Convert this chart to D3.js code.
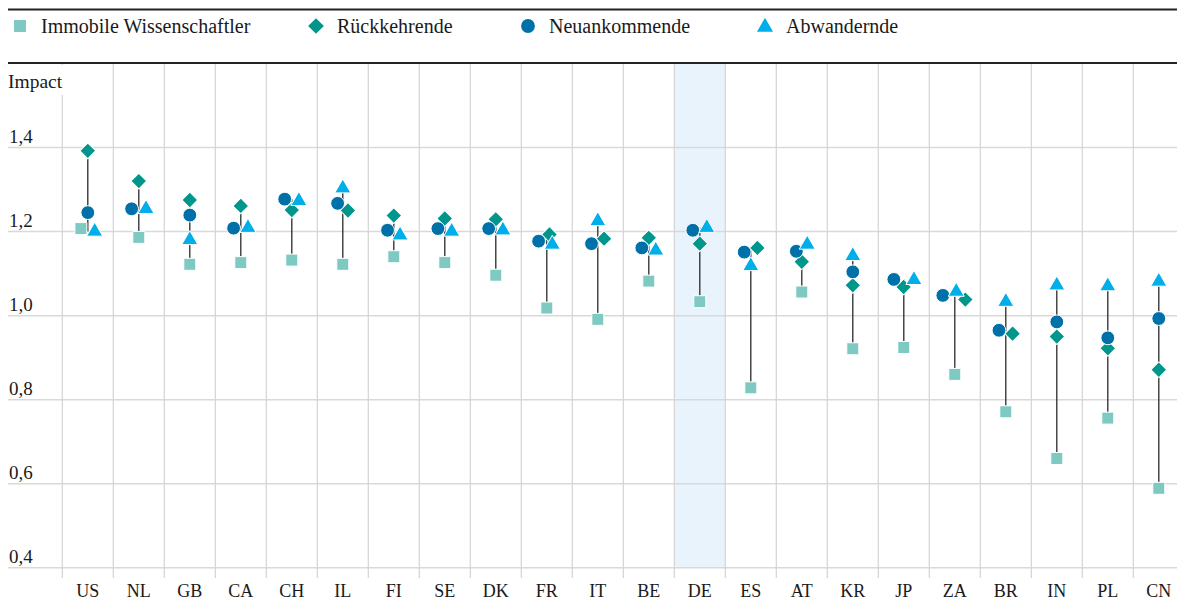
<!DOCTYPE html>
<html lang="de">
<head>
<meta charset="UTF-8">
<title>Impact nach Mobilitätsstatus</title>
<script src="https://cdn.jsdelivr.net/npm/d3@7/dist/d3.min.js"></script>
<style>
    body { margin: 0; background: #fff; }
    svg { display: block; }
    svg text { font-family: "Liberation Serif", "Times New Roman", serif; }
</style>
</head>
<body>
<svg id="chart" width="1177" height="600"></svg>
<script>
    // values
    const countries = ["US", "NL", "GB", "CA", "CH", "IL", "FI", "SE", "DK", "FR", "IT",
                       "BE", "DE", "ES", "AT", "KR", "JP", "ZA", "BR", "IN", "PL", "CN"];
    const immobile = [1.206, 1.185, 1.121, 1.125, 1.131, 1.121, 1.139, 1.125, 1.095, 1.017, 0.990,
                      1.081, 1.032, 0.827, 1.055, 0.920, 0.923, 0.859, 0.770, 0.659, 0.755, 0.588];
    const rueckkehrende = [1.391, 1.319, 1.274, 1.260, 1.250, 1.249, 1.237, 1.230, 1.228, 1.192, 1.182,
                           1.184, 1.170, 1.160, 1.127, 1.071, 1.067, 1.037, 0.956, 0.949, 0.921, 0.870];
    const neuankommende = [1.244, 1.253, 1.238, 1.207, 1.276, 1.266, 1.202, 1.206, 1.206, 1.176, 1.170,
                           1.160, 1.202, 1.150, 1.152, 1.103, 1.085, 1.047, 0.964, 0.984, 0.946, 0.992];
    const abwandernde = [1.199, 1.253, 1.179, 1.208, 1.272, 1.302, 1.190, 1.199, 1.202, 1.168, 1.224,
                         1.154, 1.208, 1.117, 1.168, 1.141, 1.084, 1.056, 1.032, 1.071, 1.069, 1.080];
    const yTicks = [0.4, 0.6, 0.8, 1.0, 1.2, 1.4];
    const highlight = "DE";

    const series = [
        {name: "Immobile Wissenschaftler", values: immobile, shape: "square", color: "#7ecac3", bias: -0.3},
        {name: "Rückkehrende", values: rueckkehrende, shape: "diamond", color: "#00968b", bias: 0.1},
        {name: "Neuankommende", values: neuankommende, shape: "circle", color: "#0071a8", bias: -1},
        {name: "Abwandernde", values: abwandernde, shape: "triangle", color: "#00aeea", bias: 1}
    ];

    const W = 1177, plotTop = 63, plotBottom = 567.3;
    const serif = "'Liberation Serif', 'Times New Roman', serif";
    const svg = d3.select("#chart").attr("font-family", serif);

    const x = d3.scaleBand().domain(countries).range([62.3, 62.3 + 51 * countries.length]);
    const y = d3.scaleLinear().domain([0.4, 1.6]).range([plotBottom, plotTop]);
    const de = d3.formatLocale({decimal: ",", thousands: ".", grouping: [3], currency: ["", "€"]});

    function symbolPath(shape) {
        if (shape === "square") return d3.symbol(d3.symbolSquare, 144)();
        if (shape === "diamond") return d3.symbol(d3.symbolSquare, 124)();
        if (shape === "circle") return d3.symbol(d3.symbolCircle, 150)();
        return d3.symbol(d3.symbolTriangle, 112)();
    }
    function symbolTransform(shape, px, py) {
        return `translate(${px},${py})` + (shape === "diamond" ? " rotate(45)" : "");
    }

    // highlighted column
    svg.append("rect")
        .attr("x", x(highlight)).attr("y", plotTop)
        .attr("width", x.bandwidth()).attr("height", plotBottom - plotTop)
        .attr("fill", "#e8f3fb");

    // horizontal grid + y labels
    const yAxis = svg.append("g")
        .attr("transform", "translate(8,0)")
        .call(d3.axisLeft(y).tickValues(yTicks).tickSize(-(W - 8)).tickFormat(de.format(".1f")))
        .attr("font-family", serif);
    yAxis.select(".domain").remove();
    yAxis.selectAll(".tick line").attr("stroke", "#d9d9d9").attr("stroke-width", 1.5);
    yAxis.selectAll(".tick text")
        .attr("x", 1).attr("dy", -5)
        .attr("text-anchor", "start")
        .attr("fill", "#1a1a1a")
        .style("font-size", "19px")
        .style("font-family", serif);

    // vertical grid at band edges
    svg.append("g").selectAll("line")
        .data(countries)
        .join("line")
        .attr("x1", d => x(d)).attr("x2", d => x(d))
        .attr("y1", plotTop).attr("y2", 578)
        .attr("stroke", "#d4d4d4").attr("stroke-width", 1.2);

    // x labels
    const xAxis = svg.append("g")
        .attr("transform", `translate(0,${plotBottom})`)
        .call(d3.axisBottom(x).tickSize(0).tickPadding(17))
        .attr("font-family", serif);
    xAxis.select(".domain").remove();
    xAxis.selectAll(".tick text")
        .attr("fill", "#1a1a1a")
        .style("font-size", "18px")
        .style("font-family", serif);

    // "Impact" label
    svg.append("rect").attr("x", 6).attr("y", 65).attr("width", 60).attr("height", 30).attr("fill", "#fff");
    svg.append("text")
        .attr("x", 8).attr("y", 88)
        .attr("fill", "#1a1a1a")
        .style("font-size", "19.5px")
        .style("font-family", serif)
        .text("Impact");

    // legend rules
    [9.5, 63].forEach(ly => {
        svg.append("line")
            .attr("x1", 8).attr("x2", W)
            .attr("y1", ly).attr("y2", ly)
            .attr("stroke", "#222").attr("stroke-width", 2);
    });

    // dumbbell lines
    const rows = countries.map((c, i) => {
        const vals = series.map(s => s.values[i]);
        return {country: c, min: d3.min(vals), max: d3.max(vals)};
    });
    svg.append("g").selectAll("line")
        .data(rows)
        .join("line")
        .attr("x1", d => x(d.country) + x.bandwidth() / 2)
        .attr("x2", d => x(d.country) + x.bandwidth() / 2)
        .attr("y1", d => y(d.max)).attr("y2", d => y(d.min))
        .attr("stroke", "#2a2a2a").attr("stroke-width", 1.3);

    // dodge overlapping markers with a small force layout per country
    // (y is stretched in the simulation so only near-equal values get pushed sideways)
    const ySquash = 1.4;
    const nodes = [];
    countries.forEach((c, i) => {
        const cx = x(c) + x.bandwidth() / 2;
        const group = series.map(s => ({
            s, cx, py: y(s.values[i]),
            x: cx + s.bias * 0.6, y: y(s.values[i]) * ySquash, fy: y(s.values[i]) * ySquash
        }));
        d3.forceSimulation(group)
            .force("x", d3.forceX(cx).strength(0.12))
            .force("collide", d3.forceCollide(7.2))
            .stop()
            .tick(300);
        nodes.push(...group);
    });

    series.forEach(s => {
        svg.append("g").selectAll("path")
            .data(nodes.filter(n => n.s === s))
            .join("path")
            .attr("d", symbolPath(s.shape))
            .attr("transform", d => symbolTransform(s.shape, d.x, d.py))
            .attr("fill", s.color)
            .attr("stroke", "#fff").attr("stroke-width", 1);
    });

    // legend
    const legendX = [20, 316, 528, 765];
    const legend = svg.append("g").selectAll("g")
        .data(series)
        .join("g")
        .attr("transform", (d, i) => `translate(${legendX[i]},26)`);
    legend.append("path")
        .attr("d", d => symbolPath(d.shape))
        .attr("transform", d => symbolTransform(d.shape, 0, d.shape === "triangle" ? 1 : 0))
        .attr("fill", d => d.color);
    legend.append("text")
        .attr("x", 21)
        .attr("y", 6.5)
        .attr("fill", "#1a1a1a")
        .style("font-size", "20px")
        .style("font-family", serif)
        .text(d => d.name);
</script>
</body>
</html>
